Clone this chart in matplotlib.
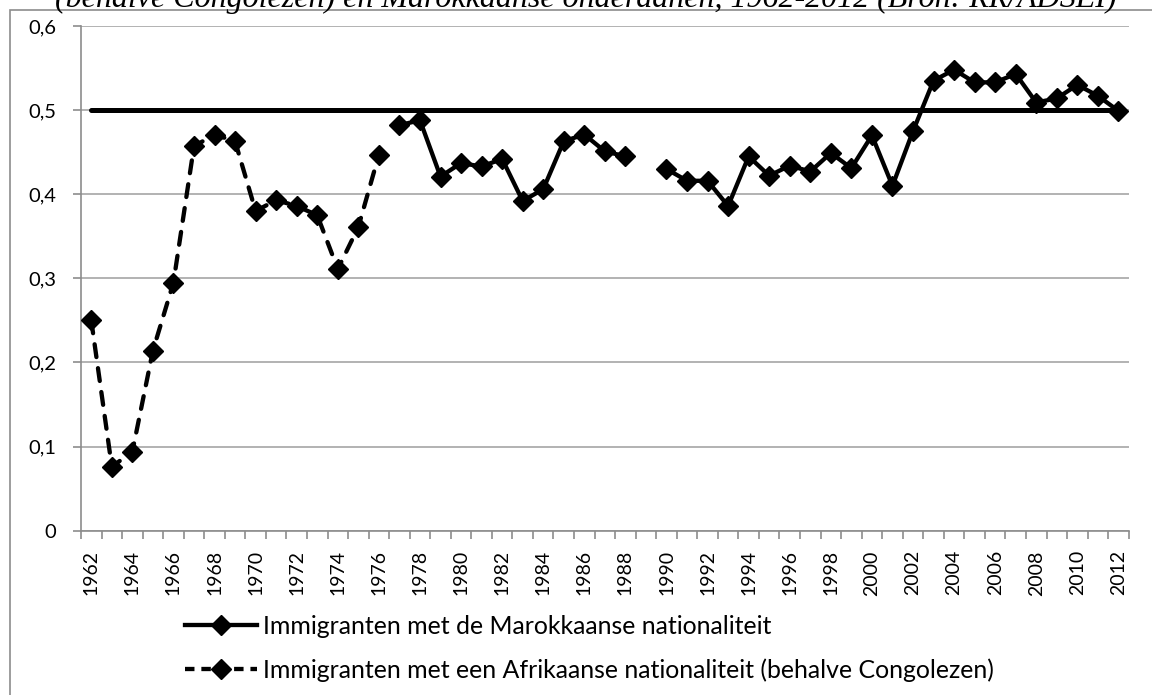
import numpy as np
import matplotlib
matplotlib.use("Agg")
import matplotlib.pyplot as plt
from matplotlib.patches import Rectangle
from matplotlib.lines import Line2D

# jaren en waarden
years = list(range(1962, 2013))
afrikaans = [0.250, 0.076, 0.094, 0.214, 0.295, 0.457, 0.471, 0.463, 0.380, 0.393,
             0.386, 0.375, 0.311, 0.361, 0.447] + [np.nan] * 36
marokkaans = [np.nan] * 15 + [0.482, 0.488, 0.421, 0.437, 0.433, 0.442, 0.392, 0.406,
                              0.463, 0.471, 0.451, 0.445, np.nan, 0.430, 0.416, 0.416,
                              0.386, 0.445, 0.422, 0.434, 0.427, 0.449, 0.431, 0.470,
                              0.410, 0.475, 0.535, 0.548, 0.533, 0.533, 0.543, 0.509,
                              0.514, 0.530, 0.517, 0.499]
evenwicht = [0.5] * len(years)
yticks = [0, 0.1, 0.2, 0.3, 0.4, 0.5, 0.6]
ytick_labels = ["0", "0,1", "0,2", "0,3", "0,4", "0,5", "0,6"]

title = "(behalve Congolezen) en Marokkaanse onderdanen, 1962-2012 (Bron: RR/ADSEI)"
label_mar = "Immigranten met de Marokkaanse nationaliteit"
label_afr = "Immigranten met een Afrikaanse nationaliteit (behalve Congolezen)"

W, H = 1152, 695
fig = plt.figure(figsize=(W / 100, H / 100), dpi=100)
ax = fig.add_axes([81 / W, 1 - 530.7 / H, (1128.7 - 81) / W, (530.7 - 26) / H])

grey = "#8c8c8c"
x = np.arange(len(years))
lw = 3.1
ms = 10.5

ax.plot(x, evenwicht, color="black", lw=3.6, solid_capstyle="round", zorder=3)
ax.plot(x, afrikaans, color="black", lw=lw, linestyle=(0, (3.0, 2.6)),
        dash_capstyle="round", marker="D", ms=ms, zorder=4)
ax.plot(x, marokkaans, color="black", lw=lw, marker="D", ms=ms,
        solid_joinstyle="round", zorder=4)

ax.set_xlim(-0.5, len(years) - 0.5)
ax.set_ylim(0, 0.6)
ax.set_yticks(yticks)
ax.set_yticklabels(ytick_labels)
ax.yaxis.grid(True, color="#a6a6a6", lw=1.2)
ax.set_axisbelow(True)

ax.set_xticks(x[::2])
ax.set_xticklabels([str(y) for y in years[::2]], rotation=90)
ax.set_xticks(np.arange(-0.5, len(years), 1), minor=True)
ax.tick_params(axis="x", which="major", length=0, pad=14, labelsize=14)
ax.tick_params(axis="x", which="minor", length=6, color=grey, width=1.2)
ax.tick_params(axis="y", length=6, color=grey, width=1.2, pad=12, labelsize=14.5)
for lab in ax.get_xticklabels() + ax.get_yticklabels():
    lab.set_fontfamily("Lato")

for s in ["top", "right"]:
    ax.spines[s].set_visible(False)
for s in ["left", "bottom"]:
    ax.spines[s].set_color(grey)
    ax.spines[s].set_linewidth(1.2)

# rand van het grafiekgebied
fig.patches.append(Rectangle((10 / W, -0.1), 1.2, 1.1 - 10 / H, transform=fig.transFigure,
                             fill=False, edgecolor=grey, lw=1.2))

# titel, bovenaan afgesneden zoals in het origineel
fig.text(55 / W, 1 - 7 / H, title, ha="left", va="baseline", fontsize=23,
         family="Liberation Serif", style="italic")

handles = [Line2D([], [], color="black", lw=lw, marker="D", ms=ms),
           Line2D([], [], color="black", lw=lw, linestyle=(0, (2.2, 1.6)), marker="D", ms=ms)]
fig.legend(handles, [label_mar, label_afr], loc="upper left",
           bbox_to_anchor=(185 / W, 1 - 615 / H), frameon=False, prop={"family": "Lato", "size": 17.9},
           handlelength=2.9, handletextpad=0.25, labelspacing=0.82, borderpad=0, borderaxespad=0)

fig.savefig("out.png", dpi=100)
